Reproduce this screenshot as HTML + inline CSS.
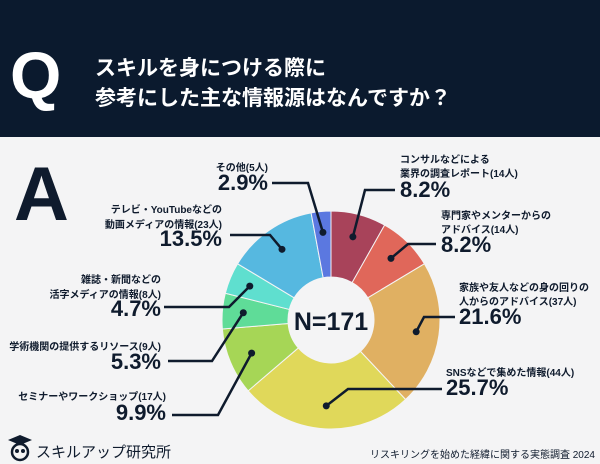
<!DOCTYPE html>
<html><head><meta charset="utf-8">
<style>
body{margin:0;width:600px;height:464px;overflow:hidden;background:#f4f4f5;font-family:"Liberation Sans","Noto Sans CJK JP",sans-serif}
svg{display:block}
.s{font-size:10px;fill:#0f1b2d;font-weight:bold}
.p{font-size:22px;fill:#0f1b2d;font-weight:bold}
.l{stroke:#0f1b2d;stroke-width:2.5;fill:none}
</style></head><body>
<svg id="c" width="600" height="464">
<rect x="0" y="0" width="600" height="137" fill="#0b1a2e"/>
<text x="10" y="98" font-size="66" font-weight="900" fill="#fff">Q</text>
<text x="95" y="75" font-size="21" font-weight="bold" fill="#fff">スキルを身につける際に</text>
<text x="95" y="105" font-size="21" font-weight="bold" fill="#fff">参考にした主な情報源はなんですか？</text>
<text x="14" y="220" font-size="76" font-weight="900" fill="#0f1b2d">A</text>
<g id="pie"></g>
<text x="331" y="330" text-anchor="middle" font-size="25" font-weight="bold" fill="#0f1b2d">N=171</text>
<g id="labels"></g>
<g>
<path d="M8 440 L20 435 L32 440 L20 445Z" fill="#0f1b2d"/>
<circle cx="20" cy="452" r="8" fill="none" stroke="#0f1b2d" stroke-width="2.5"/>
<circle cx="17" cy="451" r="2" fill="#0f1b2d"/><circle cx="23" cy="451" r="2" fill="#0f1b2d"/>
</g>
<text x="36" y="457" font-size="15" fill="#0f1b2d">スキルアップ研究所</text>
<text x="595" y="458" text-anchor="end" font-size="10" fill="#0f1b2d">リスキリングを始めた経緯に関する実態調査 2024</text>
</svg>
<script>
const categories=["コンサルなどによる業界の調査レポート","専門家やメンターからのアドバイス","家族や友人などの身の回りの人からのアドバイス","SNSなどで集めた情報","セミナーやワークショップ","学術機関の提供するリソース","雑誌・新聞などの活字メディアの情報","テレビ・YouTubeなどの動画メディアの情報","その他"];
const counts=[14,14,37,44,17,9,8,23,5];
const percents=["8.2%","8.2%","21.6%","25.7%","9.9%","5.3%","4.7%","13.5%","2.9%"];
const colors=["#a8435a","#e0675a","#e0b062","#e0d85a","#a6d656","#5fdc98","#5fdfcf","#56b8e0","#5b78e0"];
const NS="http://www.w3.org/2000/svg";
const cx=331,cy=320,R=109,r=43;
const total=counts.reduce((a,b)=>a+b,0);
const pie=document.getElementById('pie');
function pt(a,rad){return [cx+rad*Math.sin(a),cy-rad*Math.cos(a)];}
let a0=0;const mids=[];
counts.forEach((v,i)=>{
 const a1=a0+v/total*2*Math.PI;
 const [x0,y0]=pt(a0,R),[x1,y1]=pt(a1,R),[x2,y2]=pt(a1,r),[x3,y3]=pt(a0,r);
 const lg=(a1-a0)>Math.PI?1:0;
 const p=document.createElementNS(NS,'path');
 p.setAttribute('d',`M${x0} ${y0}A${R} ${R} 0 ${lg} 1 ${x1} ${y1}L${x2} ${y2}A${r} ${r} 0 ${lg} 0 ${x3} ${y3}Z`);
 p.setAttribute('fill',colors[i]);p.setAttribute('stroke','#f4f4f5');p.setAttribute('stroke-width','1');
 
 
 pie.appendChild(p);
 mids.push((a0+a1)/2);a0=a1;
});
// label layout: [textAnchor, textX, lineBaselines..., pctBaseline, lineY, lineStartX, elbowX]
const layout=[
 ["start",400,[163,177],197,190,395,365,["コンサルなどによる","業界の調査レポート(14人)"]],
 ["start",441,[219,233],252,244,436,408,["専門家やメンターからの","アドバイス(14人)"]],
 ["start",459,[291,305],324,317,455,424,["家族や友人などの身の回りの","人からのアドバイス(37人)"]],
 ["start",446,[376],395,389,442,348,["SNSなどで集めた情報(44人)"]],
 ["end",166,[400],420,415,172,218,["セミナーやワークショップ(17人)"]],
 ["end",161,[350],369,361,168,212,["学術機関の提供するリソース(9人)"]],
 ["end",161,[283,298],316,307,164,229,["雑誌・新聞などの","活字メディアの情報(8人)"]],
 ["end",222,[213,228],246,235,230,270,["テレビ・YouTubeなどの","動画メディアの情報(23人)"]],
 ["end",268,[171],190,183,272,308,["その他(5人)"]]
];
const lg=document.getElementById('labels');
layout.forEach((L,i)=>{
 const [anc,tx,bl,pb,ly,lx,ex,lines]=L;
 const [dx,dy]=pt(mids[i],(R+r)/2+ (counts[i]<10?12:10));
 lines.forEach((s,k)=>{
  const t=document.createElementNS(NS,'text');
  t.setAttribute('x',tx);t.setAttribute('y',bl[k]);t.setAttribute('text-anchor',anc);t.setAttribute('class','s');
  t.textContent=s;
  
  
  lg.appendChild(t);
 });
 const t=document.createElementNS(NS,'text');
 t.setAttribute('x',tx);t.setAttribute('y',pb);t.setAttribute('text-anchor',anc);t.setAttribute('class','p');
 t.textContent=percents[i];
 
 
 lg.appendChild(t);
 const pl=document.createElementNS(NS,'polyline');
 pl.setAttribute('points',`${lx},${ly} ${ex},${ly} ${dx},${dy}`);pl.setAttribute('class','l');
 
 
 lg.appendChild(pl);
 const c=document.createElementNS(NS,'circle');
 c.setAttribute('cx',dx);c.setAttribute('cy',dy);c.setAttribute('r',3.5);c.setAttribute('fill','#0f1b2d');
 
 
 lg.appendChild(c);
});
</script>
</body></html>
